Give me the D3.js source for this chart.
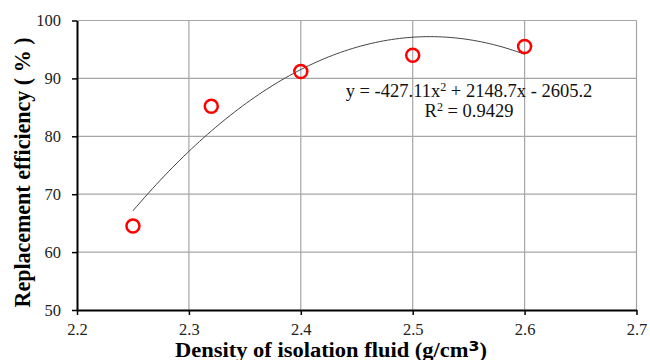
<!DOCTYPE html>
<html>
<head>
<meta charset="utf-8">
<script src="https://cdn.jsdelivr.net/npm/d3@7"></script>
<style>
  html, body { margin: 0; padding: 0; background: #fff; }
  svg { display: block; }
  text { font-family: "Liberation Serif", "Times New Roman", serif; }
</style>
</head>
<body>
<svg id="chart" width="650" height="360"></svg>
<script>
// Measured points: isolation fluid density vs. replacement efficiency
const density = [2.25, 2.32, 2.4, 2.5, 2.6];
const efficiency = [64.5, 85.2, 91.2, 94.0, 95.5];

// Quadratic trendline y = a x^2 + b x + c (coefficients as printed on the chart)
const trendCoef = [-427.11, 2148.7, -2605.2];
const trendRange = [2.25, 2.6];

const xTicks = [2.2, 2.3, 2.4, 2.5, 2.6, 2.7];
const yTicks = [50, 60, 70, 80, 90, 100];

const xDomain = [2.2, 2.7];
const yDomain = [50, 100];

const serif = '"Liberation Serif", "Times New Roman", serif';
const margin = { left: 77, right: 13.5, top: 20.5, bottom: 50 };
const W = 650, H = 360;

const svg = d3.select("#chart");
const x = d3.scaleLinear().domain(xDomain).range([margin.left, W - margin.right]);
const y = d3.scaleLinear().domain(yDomain).range([H - margin.bottom, margin.top]);

// Gridlines
const grid = svg.append("g").attr("stroke", "#a6a6a6").attr("stroke-width", 1.2);
grid.selectAll("line.v").data(xTicks.slice(1)).join("line")
  .attr("x1", d => x(d)).attr("x2", d => x(d))
  .attr("y1", y(yDomain[1])).attr("y2", y(yDomain[0]));
grid.selectAll("line.h").data(yTicks.slice(1)).join("line")
  .attr("x1", x(xDomain[0])).attr("x2", x(xDomain[1]))
  .attr("y1", d => y(d)).attr("y2", d => y(d));

// Axes
const xAxis = d3.axisBottom(x).tickValues(xTicks).tickFormat(d3.format(".1f")).tickSize(5).tickSizeOuter(0).tickPadding(8.3);
const yAxis = d3.axisLeft(y).tickValues(yTicks).tickFormat(d3.format("d")).tickSize(5).tickSizeOuter(0).tickPadding(11);

const gx = svg.append("g").attr("transform", `translate(0,${y(yDomain[0])})`).call(xAxis);
const gy = svg.append("g").attr("transform", `translate(${x(xDomain[0])},0)`).call(yAxis);

gx.attr("font-family", serif).attr("font-size", 16.5);
gy.attr("font-family", serif).attr("font-size", 16.5);
[gx, gy].forEach(g => {
  g.select(".domain").attr("stroke", "#000").attr("stroke-width", 2);
  g.selectAll(".tick line").attr("stroke", "#000").attr("stroke-width", 1.5);
  g.selectAll(".tick text").attr("fill", "#222");
});

// Trendline
const trendX = d3.range(0, 101).map(i => trendRange[0] + (trendRange[1] - trendRange[0]) * i / 100);
const poly = v => trendCoef[0] * v * v + trendCoef[1] * v + trendCoef[2];
svg.append("path")
  .datum(trendX)
  .attr("fill", "none")
  .attr("stroke", "#444")
  .attr("stroke-width", 1)
  .attr("d", d3.line().x(d => x(d)).y(d => y(poly(d))));

// Data points
svg.append("g").selectAll("circle")
  .data(density.map((d, i) => [d, efficiency[i]]))
  .join("circle")
  .attr("cx", d => x(d[0]))
  .attr("cy", d => y(d[1]))
  .attr("r", 6.5)
  .attr("fill", "none")
  .attr("stroke", "#ff0000")
  .attr("stroke-width", 2.5);

// Trendline equation
const eq = svg.append("g").attr("fill", "#111").attr("font-family", serif).attr("font-size", 18.5);
eq.append("text").attr("x", 469).attr("y", 97).attr("text-anchor", "middle")
  .html('y = -427.11x<tspan dy="-6" font-size="12">2</tspan><tspan dy="6"> + 2148.7x - 2605.2</tspan>');
eq.append("text").attr("x", 469).attr("y", 117).attr("text-anchor", "middle")
  .html('R<tspan dy="-6" font-size="12">2</tspan><tspan dy="6"> = 0.9429</tspan>');

// Axis titles
svg.append("text")
  .attr("transform", `translate(30,172.5) rotate(-90)`)
  .attr("text-anchor", "middle")
  .attr("fill", "#000")
  .attr("font-family", serif)
  .attr("font-size", 22.5).attr("font-weight", "bold")
  .attr("textLength", 270).attr("lengthAdjust", "spacingAndGlyphs")
  .text("Replacement efficiency ( % )");

svg.append("text")
  .attr("x", 331).attr("y", 356.5)
  .attr("text-anchor", "middle")
  .attr("fill", "#000")
  .attr("font-family", serif)
  .attr("font-size", 20).attr("font-weight", "bold")
  .attr("textLength", 312).attr("lengthAdjust", "spacingAndGlyphs")
  .html('Density of isolation fluid (g/cm<tspan font-family="DejaVu Sans" font-size="14" dy="-6">3</tspan><tspan dy="6">)</tspan>');
</script>
</body>
</html>
